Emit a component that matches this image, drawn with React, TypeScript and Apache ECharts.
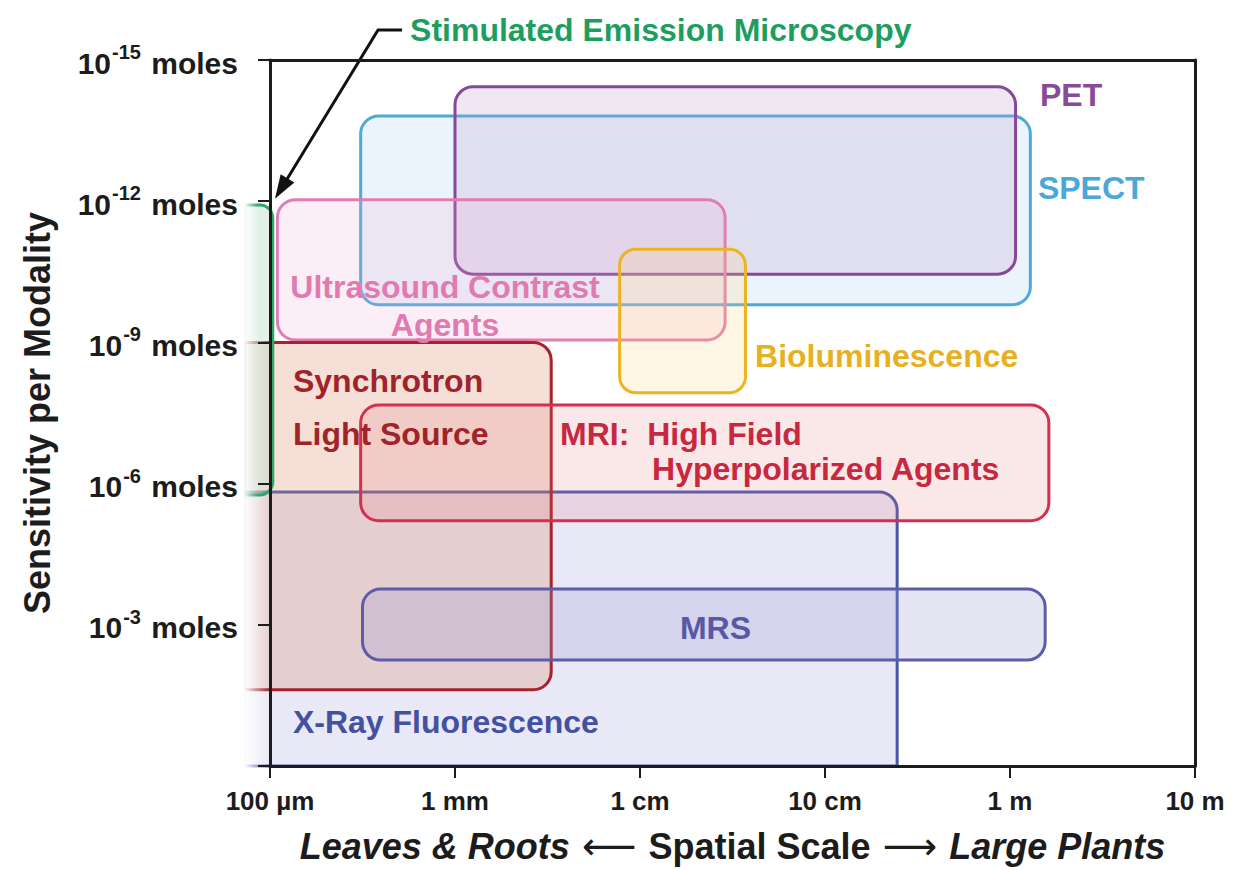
import React, { useEffect, useRef } from 'react';
import * as echarts from 'echarts';

// ---------- data ----------
// x values are log10(spatial scale in metres); y values are log10(moles)
const xTickValues = [-4, -3, -2, -1, 0, 1];
const xTickLabels = ['100 \u00b5m', '1 mm', '1 cm', '10 cm', '1 m', '10 m'];
const yTickExponents = [-15, -12, -9, -6, -3];

const regionNames = [
  'X-Ray Fluorescence',
  'SPECT',
  'PET',
  'Ultrasound Contrast Agents',
  'Synchrotron Light Source',
  'Stimulated Emission Microscopy',
  'MRI',
  'Bioluminescence',
  'MRS',
];
const regionXMin = [-4.14, -3.51, -3.0, -3.96, -4.14, -4.14, -3.51, -2.11, -3.5];
const regionXMax = [-0.61, 0.11, 0.03, -1.54, -2.48, -3.985, 0.21, -1.43, 0.19];
const regionYMin = [-5.82, -13.81, -14.43, -12.03, -9.0, -11.92, -7.67, -10.98, -3.76];
const regionYMax = [0, -9.8, -10.45, -9.05, -1.62, -5.76, -5.21, -7.93, -2.25];

const labelTexts = [
  'Stimulated Emission Microscopy',
  'PET',
  'SPECT',
  'Ultrasound Contrast',
  'Agents',
  'Bioluminescence',
  'Synchrotron',
  'Light Source',
  'MRI:  High Field',
  'Hyperpolarized Agents',
  'MRS',
  'X-Ray Fluorescence',
];
const labelX = [-3.243, 0.162, 0.151, -3.054, -3.054, -1.378, -3.876, -3.876, -2.432, -1.935, -1.784, -3.876];
const labelY = [-15.64, -14.26, -12.28, -10.18, -9.37, -8.71, -8.18, -7.05, -7.05, -6.31, -2.93, -0.94];

const arrowX = [-3.286, -3.416, -3.973];
const arrowY = [-15.64, -15.64, -12.05];

// ---------- styles ----------
const FONT = "'Liberation Sans', Arial, Helvetica, sans-serif";
const AXIS_COLOR = '#1c1c1c';
const regionStroke = ['#4857A8', '#4BAAD8', '#87479A', '#E27DB2', '#A52329', '#2DA866', '#D42F52', '#EDB421', '#5E5CA8'];
const regionFill = [
  [190, 190, 230, 0.35],
  [190, 220, 245, 0.3],
  [190, 160, 205, 0.25],
  [240, 170, 210, 0.2],
  [220, 140, 110, 0.28],
  [160, 210, 180, 0.3],
  [230, 120, 130, 0.18],
  [255, 215, 120, 0.2],
  [150, 150, 210, 0.25],
];
const regionFadePx = [26, 0, 0, 0, 26, 14, 0, 0, 0];
const regionRadius = [
  [0, 18, 0, 0],
  18,
  18,
  18,
  [0, 18, 18, 0],
  [0, 13, 13, 0],
  18,
  16,
  18,
];
const labelColor = ['#1E9E5E', '#8A4A9A', '#4AA8D8', '#E07AB0', '#E07AB0', '#E8B020', '#A0232A', '#A0232A', '#C8283F', '#C8283F', '#5A58A5', '#4450A0'];
const labelAlign = ['left', 'left', 'left', 'center', 'center', 'left', 'left', 'left', 'left', 'left', 'left', 'left'];

const rgba = (c: number[], a?: number) => `rgba(${c[0]},${c[1]},${c[2]},${a === undefined ? c[3] : a})`;
const hexToRgb = (h: string) => [parseInt(h.slice(1, 3), 16), parseInt(h.slice(3, 5), 16), parseInt(h.slice(5, 7), 16)];

export default function App() {
  const ref = useRef<HTMLDivElement>(null);

  useEffect(() => {
    if (!ref.current) return;
    const chart = echarts.init(ref.current, undefined, { renderer: 'svg' });

    const boxData = regionNames.map((n, i) => [regionXMin[i], regionXMax[i], regionYMin[i], regionYMax[i]]);
    const labelData = labelTexts.map((t, i) => [labelX[i], labelY[i]]);

    const option: any = {
      animation: false,
      backgroundColor: '#ffffff',
      grid: { left: 270, right: 38, top: 60, bottom: 104, containLabel: false, outerBoundsMode: 'none' },
      xAxis: [
        {
          type: 'value',
          min: -4,
          max: 1,
          interval: 1,
          position: 'bottom',
          z: 10,
          axisLine: { onZero: false, lineStyle: { color: AXIS_COLOR, width: 3 } },
          axisTick: { length: 12, lineStyle: { color: AXIS_COLOR, width: 2 } },
          splitLine: { show: false },
          axisLabel: {
            margin: 22,
            fontSize: 26,
            fontWeight: 'bold',
            color: AXIS_COLOR,
            fontFamily: FONT,
            formatter: (v: number) => {
              const i = xTickValues.indexOf(Math.round(v));
              return i >= 0 ? xTickLabels[i] : '';
            },
          },
          name: '{i|Leaves & Roots}{a| \u27f5 }{b|Spatial Scale}{a| \u27f6 }{i|Large Plants}',
          nameLocation: 'middle',
          nameGap: 60,
          nameTextStyle: {
            color: AXIS_COLOR,
            rich: {
              i: { fontSize: 36, fontStyle: 'italic', fontWeight: 'bold', fontFamily: FONT, color: AXIS_COLOR, lineHeight: 40 },
              b: { fontSize: 36, fontWeight: 'bold', fontFamily: FONT, color: AXIS_COLOR, lineHeight: 40 },
              a: { fontSize: 38, fontFamily: "'DejaVu Sans', sans-serif", color: AXIS_COLOR, lineHeight: 40 },
            },
          },
        },
        {
          type: 'value',
          min: -4,
          max: 1,
          position: 'top',
          z: 10,
          axisLine: { onZero: false, lineStyle: { color: AXIS_COLOR, width: 3 } },
          axisTick: { show: false },
          axisLabel: { show: false },
          splitLine: { show: false },
        },
      ],
      yAxis: [
        {
          type: 'value',
          inverse: true,
          min: -15,
          max: 0,
          interval: 3,
          position: 'left',
          z: 10,
          axisLine: { onZero: false, lineStyle: { color: AXIS_COLOR, width: 3 } },
          axisTick: { length: 12, lineStyle: { color: AXIS_COLOR, width: 2 } },
          splitLine: { show: false },
          axisLabel: {
            margin: 32,
            color: AXIS_COLOR,
            formatter: (v: number) => {
              const e = Math.round(v);
              if (yTickExponents.indexOf(e) < 0) return '';
              return `{b|10}{s|${e}}{b| moles}`;
            },
            rich: {
              b: { fontSize: 30, fontWeight: 'bold', fontFamily: FONT, color: AXIS_COLOR, lineHeight: 36, verticalAlign: 'bottom' },
              s: { fontSize: 20, fontWeight: 'bold', fontFamily: FONT, color: AXIS_COLOR, lineHeight: 36, verticalAlign: 'top', padding: [0, 2, 0, 1] },
            },
          },
          name: 'Sensitivity per Modality',
          nameLocation: 'middle',
          nameGap: 215,
          nameRotate: 90,
          nameTextStyle: { fontSize: 36, fontWeight: 'bold', fontFamily: FONT, color: AXIS_COLOR },
        },
        {
          type: 'value',
          inverse: true,
          min: -15,
          max: 0,
          position: 'right',
          z: 10,
          axisLine: { onZero: false, lineStyle: { color: AXIS_COLOR, width: 3 } },
          axisTick: { show: false },
          axisLabel: { show: false },
          splitLine: { show: false },
        },
      ],
      series: [
        {
          type: 'custom',
          name: 'Modalities',
          clip: false,
          z: 2,
          data: boxData,
          renderItem: (params: any, api: any) => {
            const i = params.dataIndex;
            const p0 = api.coord([api.value(0), api.value(2)]);
            const p1 = api.coord([api.value(1), api.value(3)]);
            const x = Math.min(p0[0], p1[0]);
            const y = Math.min(p0[1], p1[1]);
            const w = Math.abs(p1[0] - p0[0]);
            const h = Math.abs(p1[1] - p0[1]);
            const fillC = regionFill[i];
            const strokeRgb = hexToRgb(regionStroke[i]);
            let fill: any = rgba(fillC);
            let stroke: any = regionStroke[i];
            if (regionFadePx[i] > 0) {
              const f = Math.min(0.95, regionFadePx[i] / w);
              fill = new echarts.graphic.LinearGradient(0, 0, 1, 0, [
                { offset: 0, color: rgba(fillC, 0) },
                { offset: f, color: rgba(fillC) },
                { offset: 1, color: rgba(fillC) },
              ]);
              stroke = new echarts.graphic.LinearGradient(0, 0, 1, 0, [
                { offset: 0, color: rgba(strokeRgb, 0) },
                { offset: f, color: rgba(strokeRgb, 1) },
                { offset: 1, color: rgba(strokeRgb, 1) },
              ]);
            }
            return {
              type: 'rect',
              shape: { x, y, width: w, height: h, r: regionRadius[i] },
              style: { fill, stroke, lineWidth: 3 },
            };
          },
        },
        {
          type: 'custom',
          name: 'Arrow',
          clip: false,
          z: 4,
          data: [[arrowX[0], arrowY[0]]],
          renderItem: (params: any, api: any) => {
            const pts = arrowX.map((v, k) => api.coord([v, arrowY[k]]));
            const tip = pts[pts.length - 1];
            const prev = pts[pts.length - 2];
            const dx = tip[0] - prev[0];
            const dy = tip[1] - prev[1];
            const len = Math.sqrt(dx * dx + dy * dy);
            const ux = dx / len;
            const uy = dy / len;
            const L = 24;
            const W = 8;
            const base = [tip[0] - ux * L, tip[1] - uy * L];
            const linePts = pts.slice(0, -1).concat([[tip[0] - ux * L * 0.7, tip[1] - uy * L * 0.7]]);
            return {
              type: 'group',
              children: [
                { type: 'polyline', shape: { points: linePts }, style: { stroke: '#111', lineWidth: 3, fill: 'none' } },
                {
                  type: 'polygon',
                  shape: {
                    points: [
                      tip,
                      [base[0] - uy * W, base[1] + ux * W],
                      [base[0] + uy * W, base[1] - ux * W],
                    ],
                  },
                  style: { fill: '#111' },
                },
              ],
            };
          },
        },
        {
          type: 'custom',
          name: 'Labels',
          clip: false,
          z: 5,
          data: labelData,
          renderItem: (params: any, api: any) => {
            const i = params.dataIndex;
            const p = api.coord([api.value(0), api.value(1)]);
            return {
              type: 'text',
              x: p[0],
              y: p[1],
              style: {
                text: labelTexts[i],
                fill: labelColor[i],
                font: `bold 32px ${FONT}`,
                align: labelAlign[i],
                verticalAlign: 'middle',
                lineHeight: 30,
              },
            };
          },
        },
      ],
    };

    chart.setOption(option);
    return () => chart.dispose();
  }, []);

  return (
    <div
      ref={ref}
      style={{ position: 'fixed', left: 0, top: 0, width: 1233, height: 870, background: '#fff' }}
    />
  );
}
